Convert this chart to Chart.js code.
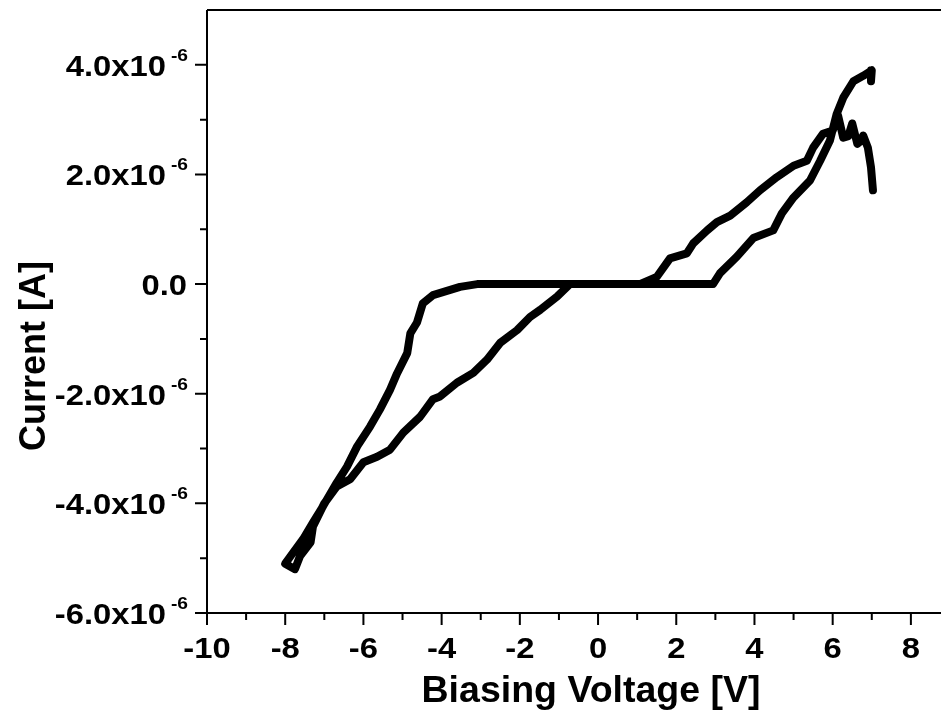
<!DOCTYPE html><html lang="en"><meta charset="utf-8">
<title>Biasing Voltage vs Current</title>
<script src="https://cdn.jsdelivr.net/npm/chart.js@4.4.1"></script>
<style>
html,body{margin:0;padding:0;background:#fff}
#wrap{width:941px;height:714px}
</style>
<body>
<div id="wrap"><canvas id="chart" width="941" height="714"></canvas></div>
<script>
// voltage sweep, V  (7 V -> -8 V -> 7 V)
const volts = [
  7.03, 6.98, 6.90, 6.78, 6.70, 6.63, 6.50, 6.40, 6.27, 6.14, 6.00, 5.75, 5.50, 5.34, 5.00,
  4.57, 4.14, 3.80, 3.38, 3.04, 2.79, 2.43, 2.27, 1.84, 1.50, 1.07, -0.72,
  -1.05, -1.48, -1.74, -2.07, -2.50, -2.84, -3.19, -3.61, -4.04, -4.22, -4.55, -4.98,
  -5.32, -5.65, -6.00, -6.34, -6.68, -7.00, -7.29, -7.35, -7.62, -7.75, -8.00,
  -7.80, -7.54, -7.29, -7.03, -6.68, -6.42, -6.16, -5.83, -5.58, -5.32, -5.14, -4.88,
  -4.80, -4.63, -4.48, -4.22, -3.53, -3.09, 2.94,
  3.12, 3.55, 3.97, 4.48, 4.70, 5.00, 5.42, 5.68, 5.93, 6.10, 6.27, 6.53, 6.78, 7.00, 6.98
];
// current, units of 1e-6 A
const current = [
  1.71, 2.13, 2.49, 2.71, 2.60, 2.56, 2.93, 2.70, 2.67, 3.07, 2.80, 2.74, 2.49, 2.25, 2.16,
  1.95, 1.71, 1.49, 1.25, 1.13, 0.98, 0.74, 0.56, 0.47, 0.13, 0.00, 0.00,
  -0.23, -0.47, -0.60, -0.84, -1.07, -1.38, -1.62, -1.80, -2.05, -2.10, -2.42, -2.71,
  -3.02, -3.15, -3.25, -3.56, -3.69, -4.00, -4.42, -4.71, -4.96, -5.20, -5.10,
  -4.90, -4.65, -4.35, -4.05, -3.62, -3.33, -2.96, -2.60, -2.29, -1.93, -1.63, -1.26,
  -0.90, -0.70, -0.35, -0.20, -0.05, 0.00, 0.00,
  0.20, 0.50, 0.84, 0.98, 1.29, 1.58, 1.89, 2.25, 2.62, 3.10, 3.40, 3.70, 3.80, 3.90, 3.70
];

const xTicks = [-10, -8, -6, -4, -2, 0, 2, 4, 6, 8];
const xMinor = [-9, -7, -5, -3, -1, 1, 3, 5, 7];
const yTicks = [-6, -4, -2, 0, 2, 4];
const yLabels = ['-6.0x10', '-4.0x10', '-2.0x10', '0.0', '2.0x10', '4.0x10'];
const yMinor = [-5, -3, -1, 1, 3];

const FONT = '"Liberation Sans", Arial, sans-serif';
const STRETCH = 1.13;   // tick labels are a bit wide in the original

// text stretched horizontally
function wideText(c, txt, x, y, align) {
  c.save();
  c.translate(x, y);
  c.scale(STRETCH, 1);
  c.textAlign = align;
  c.fillText(txt, 0, 0);
  c.restore();
}

const axesPlugin = {
  id: 'originAxes',
  afterDraw(chart) {
    const c = chart.ctx, a = chart.chartArea;
    const xs = chart.scales.x, ys = chart.scales.y;
    c.save();
    c.strokeStyle = '#000';
    c.fillStyle = '#000';
    c.lineWidth = 2;
    // frame: left, bottom, top
    c.beginPath();
    c.moveTo(a.left, a.top); c.lineTo(a.right + 2, a.top);
    c.moveTo(a.left, a.top); c.lineTo(a.left, a.bottom);
    c.lineTo(a.right + 2, a.bottom);
    c.stroke();

    // tick marks
    c.beginPath();
    xTicks.forEach(v => { const px = xs.getPixelForValue(v); c.moveTo(px, a.bottom); c.lineTo(px, a.bottom + 12); });
    xMinor.forEach(v => { const px = xs.getPixelForValue(v); c.moveTo(px, a.bottom); c.lineTo(px, a.bottom + 7); });
    yTicks.forEach(v => { const py = ys.getPixelForValue(v); c.moveTo(a.left, py); c.lineTo(a.left - 12, py); });
    yMinor.forEach(v => { const py = ys.getPixelForValue(v); c.moveTo(a.left, py); c.lineTo(a.left - 7, py); });
    c.stroke();

    // x labels
    c.font = 'bold 29px ' + FONT;
    c.textBaseline = 'alphabetic';
    xTicks.forEach(v => wideText(c, String(v), xs.getPixelForValue(v), a.bottom + 45, 'center'));

    // y labels with superscript
    yTicks.forEach((v, i) => {
      const py = ys.getPixelForValue(v);
      const txt = yLabels[i];
      if (txt === '0.0') {
        c.font = 'bold 29px ' + FONT;
        wideText(c, txt, 187, py + 11, 'right');
      } else {
        c.font = 'bold 17px ' + FONT;
        wideText(c, '-6', 188, py - 4, 'right');
        c.font = 'bold 29px ' + FONT;
        wideText(c, txt, 166, py + 11, 'right');
      }
    });

    // axis titles
    c.font = 'bold 37.5px ' + FONT;
    c.textAlign = 'center';
    c.fillText('Biasing Voltage [V]', 591, 702);
    c.font = 'bold 36px ' + FONT;
    c.save();
    c.translate(45, 356);
    c.rotate(-Math.PI / 2);
    c.fillText('Current [A]', 0, 0);
    c.restore();
    c.restore();
  }
};

new Chart(document.getElementById('chart'), {
  type: 'scatter',
  data: {
    datasets: [{
      data: volts.map((v, i) => ({ x: v, y: current[i] })),
      showLine: true,
      borderColor: '#000',
      backgroundColor: '#000',
      borderWidth: 8,
      pointRadius: 0,
      borderJoinStyle: 'round',
      borderCapStyle: 'round',
      tension: 0
    }]
  },
  options: {
    responsive: false,
    animation: false,
    layout: { padding: { left: 207, top: 10, right: 0, bottom: 101 } },
    plugins: { legend: { display: false }, tooltip: { enabled: false } },
    scales: {
      x: { type: 'linear', display: false, min: -10, max: 8.77 },
      y: { type: 'linear', display: false, min: -6, max: 5 }
    }
  },
  plugins: [axesPlugin]
});
</script>
</body></html>
